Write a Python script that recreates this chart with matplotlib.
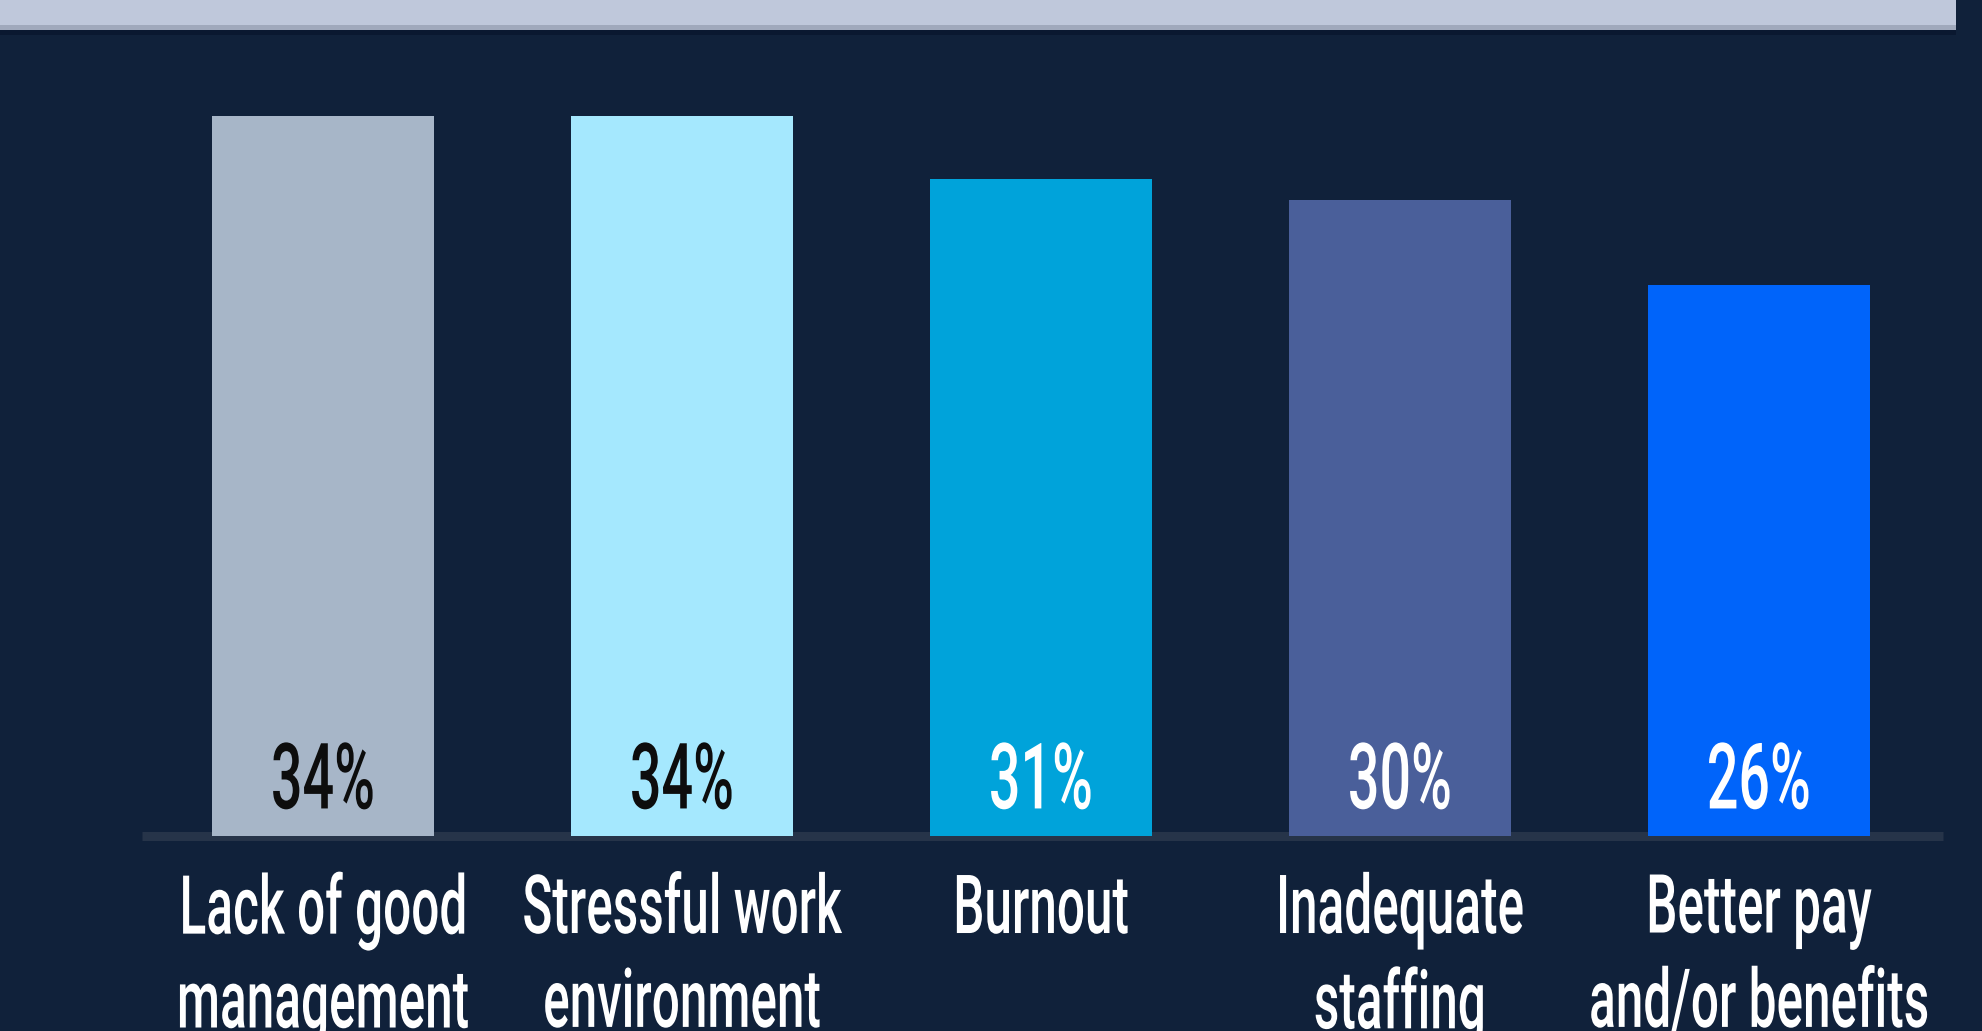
"""
Bar chart: top reasons for leaving (dark infographic style).
"""

import matplotlib
matplotlib.use('Agg')
import matplotlib.pyplot as plt
from matplotlib.patches import Rectangle
from matplotlib.patheffects import AbstractPathEffect
from matplotlib.transforms import Affine2D

categories = ['Lack of good\nmanagement', 'Stressful work\nenvironment', 'Burnout',
              'Inadequate\nstaffing', 'Better pay\nand/or benefits']
values = [34, 34, 31, 30, 26]
value_labels = ['34%', '34%', '31%', '30%', '26%']
bar_colors = ['#A7B6C8', '#A5E8FE', '#00A3DA', '#4A5F9A', '#0064FA']
label_colors = ['#0D0D0D', '#0D0D0D', '#FFFFFF', '#FFFFFF', '#FFFFFF']

BG = '#10213A'
W, H = 1983, 1031


class VStretch(AbstractPathEffect):
    """Stretch glyphs vertically about their baseline (tall condensed look)."""

    def __init__(self, sy):
        super().__init__()
        self.sy = sy

    def draw_path(self, renderer, gc, tpath, affine, rgbFace=None):
        renderer.draw_path(gc, tpath, Affine2D().scale(1, self.sy) + affine, rgbFace)


stretch = [VStretch(1.65)]
plt.rcParams['font.family'] = ['Roboto', 'DejaVu Sans']

fig = plt.figure(figsize=(W / 100, H / 100), dpi=100)
fig.patch.set_facecolor(BG)

# header band at the top (bottom edge of a box above the chart)
fig.patches.append(Rectangle((0, 1 - 35 / H), 1956 / W, 10 / H, transform=fig.transFigure,
                             facecolor='#0A1830', edgecolor='none'))
fig.patches.append(Rectangle((0, 1 - 30 / H), 1956 / W, 5 / H, transform=fig.transFigure,
                             facecolor='#A0A9BC', edgecolor='none'))
fig.patches.append(Rectangle((0, 1 - 25 / H), 1956 / W, 25 / H, transform=fig.transFigure,
                             facecolor='#BFC8DB', edgecolor='none'))

# axes placed so the baseline runs from x=142 to 1943 px, at y=836 px
px_per_unit = 21.19
ax = fig.add_axes([142 / W, 195 / H, (1943 - 142) / W, 1 - 195 / H])
ax.set_facecolor('none')
ax.set_xlim(-0.504, 4.513)
ax.set_ylim(0, (H - 195) / px_per_unit)
ax.axis('off')

x = range(len(values))
ax.bar(x, values, width=0.62, color=bar_colors, zorder=2)
ax.axhline(0, color='#263449', lw=6.5, zorder=1, clip_on=False, solid_capstyle='butt')

for i, v in enumerate(values):
    ax.text(i, 1.3, value_labels[i], ha='center', va='baseline', fontsize=40,
            fontweight='medium', color=label_colors[i], path_effects=stretch, zorder=3)
    ax.text(i, -2.88, categories[i], ha='center', va='top', fontsize=35.6,
            fontweight='medium', color='white', linespacing=2.33,
            path_effects=stretch, clip_on=False)

fig.savefig('out.png', dpi=100, facecolor=BG)
plt.close(fig)
